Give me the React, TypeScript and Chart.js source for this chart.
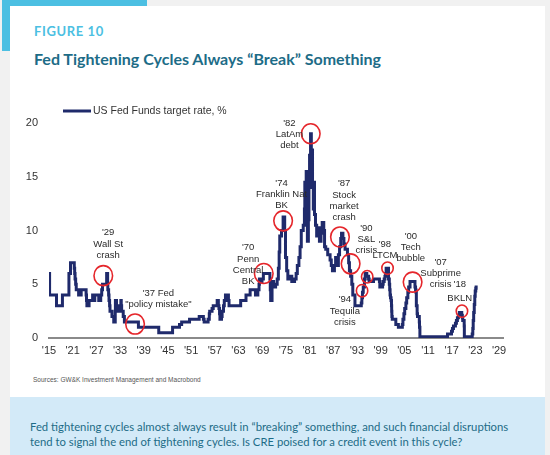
import React, { useEffect, useRef } from "react";
import { Chart, registerables } from "chart.js";

Chart.register(...registerables);

// ---- Data (decimal year of change, rate in % after the change) ----
const rateDates: number[] = [
  1915.0, 1915.15, 1916.9, 1918.4, 1920.05, 1920.45, 1921.4, 1921.5, 1921.6, 1921.75, 1921.9,
  1922.5, 1923.15, 1924.4, 1924.5, 1924.6, 1925.15, 1926.05, 1926.3, 1926.6, 1927.6, 1928.1,
  1928.35, 1928.55, 1929.6, 1929.85, 1929.9, 1930.1, 1930.2, 1930.35, 1930.45, 1930.95, 1931.4,
  1931.78, 1931.82, 1932.1, 1932.45, 1933.2, 1933.3, 1933.4, 1933.8, 1934.1, 1937.65, 1942.8,
  1946.3, 1948.05, 1948.6, 1950.6, 1953.05, 1954.1, 1954.3, 1955.3, 1955.6, 1955.7, 1956.3,
  1956.6, 1957.6, 1957.9, 1958.05, 1958.2, 1958.3, 1958.7, 1958.85, 1959.2, 1959.4, 1959.7,
  1960.45, 1960.6, 1963.55, 1964.9, 1965.95, 1967.3, 1967.9, 1968.2, 1968.3, 1968.6, 1968.95,
  1969.3, 1970.95, 1971.05, 1971.15, 1971.5, 1971.9, 1972.4, 1972.8, 1973.1, 1973.3, 1973.45,
  1973.9, 1974.3, 1974.7, 1974.9, 1975.2, 1975.5, 1976.2, 1976.5, 1977.2, 1977.6, 1977.9,
  1978.3, 1978.6, 1978.9, 1979.4, 1979.7, 1979.8, 1980.0, 1980.15, 1980.3, 1980.45, 1980.7,
  1980.85, 1981.0, 1981.1, 1981.25, 1981.45, 1981.6, 1981.75, 1981.95, 1982.05, 1982.25,
  1982.5, 1982.8, 1983.1, 1983.5, 1983.9, 1984.2, 1984.6, 1984.8, 1985.1, 1985.6, 1986.2,
  1986.5, 1986.8, 1987.3, 1987.6, 1987.9, 1988.3, 1988.6, 1988.9, 1989.1, 1989.45, 1989.7,
  1990.0, 1990.6, 1990.9, 1991.1, 1991.4, 1991.7, 1991.95, 1992.5, 1994.1, 1994.25, 1994.4,
  1994.6, 1994.9, 1995.1, 1995.5, 1995.95, 1996.1, 1997.2, 1998.7, 1998.8, 1999.5, 1999.65,
  1999.9, 2000.1, 2000.25, 2000.4, 2001.0, 2001.2, 2001.3, 2001.4, 2001.5, 2001.65, 2001.75,
  2001.8, 2001.85, 2001.95, 2002.85, 2003.5, 2004.5, 2004.65, 2004.9, 2005.1, 2005.4, 2005.6,
  2005.9, 2006.1, 2006.45, 2007.7, 2007.85, 2007.95, 2008.05, 2008.25, 2008.35, 2008.8,
  2008.85, 2008.95, 2015.95, 2016.95, 2017.2, 2017.45, 2017.95, 2018.2, 2018.45, 2018.7,
  2018.95, 2019.55, 2019.7, 2019.8, 2020.17, 2020.21, 2022.2, 2022.35, 2022.45, 2022.57,
  2022.72, 2022.85, 2022.96, 2023.1, 2023.2,
];
const rateValues: number[] = [
  6, 4, 3, 4, 6, 7, 6.5, 6, 5.5, 5, 4.5,
  4, 4.5, 4, 3.5, 3, 3.5, 4, 3.5, 4, 3.5, 4,
  4.5, 5, 6, 5, 4.5, 4, 3.5, 3, 2.5, 2, 1.5,
  2.5, 3.5, 3, 2.5, 3.5, 3, 2.5, 2, 1.5, 1, 0.5,
  1, 1.25, 1.5, 1.75, 2, 1.75, 1.5, 1.75, 2.25, 2.5, 2.75,
  3, 3.5, 3, 2.75, 2.25, 1.75, 2, 2.5, 3, 3.5, 4,
  3.5, 3, 3.5, 4, 4.5, 4, 4.5, 5, 5.5, 5.25, 5.5,
  6, 5.5, 4.5, 3.5, 5.25, 4.75, 5, 5.5, 6.5, 8, 9.5,
  10, 11.25, 10, 7.5, 6.25, 5.5, 5.75, 5.25, 5.5, 6, 6.75,
  7.5, 8.5, 10, 10.5, 12, 14.5, 13, 15.5, 12, 9, 11,
  14, 17, 15.5, 19, 16.5, 17.5, 14, 12, 14.5, 11.5,
  10.5, 9.5, 10.25, 9, 9.75, 10.75, 10, 8.5, 8.25, 7.75, 7.25,
  6.75, 6.25, 6.75, 7.5, 6.75, 7.75, 8.5, 9.25, 9.75, 9.25, 8.75,
  8.25, 7.75, 7, 6.25, 5.75, 5, 4, 3, 3.25, 3.75, 4.25,
  4.75, 5.5, 6, 5.75, 5.5, 5.25, 5.5, 5.25, 4.75, 5, 5.25,
  5.5, 5.75, 6, 6.5, 5.5, 5, 4.5, 4, 3.75, 3.5, 3,
  2.5, 2, 1.75, 1.25, 1, 1.25, 1.75, 2.25, 2.75, 3.25, 3.75,
  4.25, 4.75, 5.25, 4.75, 4.5, 4.25, 3, 2.25, 2, 1.5,
  1, 0.125, 0.375, 0.625, 0.875, 1.125, 1.375, 1.625, 1.875, 2.125,
  2.375, 2.125, 1.875, 1.625, 1.125, 0.125, 0.375, 0.875, 1.625, 2.375,
  3.125, 3.875, 4.375, 4.625, 4.875,
];

const xTickYears: number[] = [1915, 1921, 1927, 1933, 1939, 1945, 1951, 1957, 1963, 1969, 1975, 1981, 1987, 1993, 1999, 2005, 2011, 2017, 2023, 2029];
const yTickValues: number[] = [0, 5, 10, 15, 20];

const legendLabel = "US Fed Funds target rate, %";

// circled "break" events: [year, rate]
const bigCircles: number[][] = [
  [1928.75, 5.8], [1936.8, 1.3], [1969.4, 6.0], [1974.3, 10.9], [1981.3, 19.0],
  [1988.7, 9.4], [1991.4, 6.9], [2007.1, 5.2],
];
const smallCircles: number[][] = [
  [1994.3, 4.4], [1995.6, 5.7], [2000.75, 6.5], [2019.6, 2.5],
];

// annotation labels: anchor [year, rate] of the first line
const labelYears: number[] = [1930.0, 1942.7, 1965.45, 1973.9, 1975.9, 1989.75, 1995.4, 2000.1, 2006.65, 2014.2, 2019.05, 2019.05, 1989.95];
const labelRates: number[] = [9.78, 4.17, 8.39, 14.4, 19.96, 14.35, 10.19, 8.7, 9.47, 7.04, 5.03, 3.64, 3.55];
const labelTexts: string[][] = [
  ["'29", "Wall St", "crash"],
  ["'37 Fed", "\"policy mistake\""],
  ["'70", "Penn", "Central", "BK"],
  ["'74", "Franklin Nat", "BK"],
  ["'82", "LatAm", "debt"],
  ["'87", "Stock", "market", "crash"],
  ["'90", "S&L", "crisis"],
  ["'98", "LTCM"],
  ["'00", "Tech", "bubble"],
  ["'07", "Subprime", "crisis"],
  ["'18"],
  ["BKLN"],
  ["'94", "Tequila", "crisis"],
];

const NAVY = "#1f2a6b";
const ARIAL = '"Liberation Sans", Arial, sans-serif';

const overlayPlugin = {
  id: "overlay",
  afterDatasetsDraw(chart: any) {
    const { ctx, chartArea } = chart;
    const xs = chart.scales.x;
    const ys = chart.scales.y;
    ctx.save();
    // circles
    ctx.strokeStyle = "#e5262b";
    ctx.lineWidth = 1.6;
    const drawCircle = (c: number[], rx: number, ry: number) => {
      ctx.beginPath();
      ctx.ellipse(xs.getPixelForValue(c[0]), ys.getPixelForValue(c[1]), rx, ry, 0, 0, Math.PI * 2);
      ctx.stroke();
    };
    bigCircles.forEach((c) => drawCircle(c, 9.3, 10));
    smallCircles.forEach((c) => drawCircle(c, 5.7, 6.2));
    // labels
    ctx.fillStyle = "#2a2a2a";
    ctx.font = `9.5px ${ARIAL}`;
    ctx.textAlign = "center";
    ctx.textBaseline = "middle";
    labelTexts.forEach((lines, i) => {
      const px = xs.getPixelForValue(labelYears[i]);
      const py = ys.getPixelForValue(labelRates[i]);
      lines.forEach((ln, j) => ctx.fillText(ln, px, py + j * 11.2));
    });
    // legend
    const ly = chartArea.top - 12;
    ctx.strokeStyle = NAVY;
    ctx.lineWidth = 3;
    ctx.beginPath();
    ctx.moveTo(chartArea.left + 14, ly);
    ctx.lineTo(chartArea.left + 42, ly);
    ctx.stroke();
    ctx.fillStyle = "#333";
    ctx.font = `10.5px ${ARIAL}`;
    ctx.textAlign = "left";
    ctx.fillText(legendLabel, chartArea.left + 44, ly);
    ctx.restore();
  },
};

function FedChart() {
  const ref = useRef<HTMLCanvasElement | null>(null);
  useEffect(() => {
    if (!ref.current) return;
    const points = rateDates.map((d, i) => ({ x: d, y: rateValues[i] }));
    const chart = new Chart(ref.current, {
      type: "line",
      data: {
        datasets: [
          {
            label: legendLabel,
            data: points,
            borderColor: NAVY,
            borderWidth: 3,
            pointRadius: 0,
            stepped: true,
            fill: false,
          },
        ],
      },
      options: {
        animation: false,
        responsive: false,
        maintainAspectRatio: false,
        devicePixelRatio: 1,
        layout: { padding: { left: 0, right: 47, top: 123, bottom: 87 } },
        plugins: { legend: { display: false }, tooltip: { enabled: false } },
        scales: {
          x: {
            type: "linear",
            min: 1915,
            max: 2030,
            grid: { display: false, drawTicks: false },
            border: { display: true, color: "#8a8a8a", width: 2 },
            afterBuildTicks: (s: any) => {
              s.ticks = xTickYears.map((v) => ({ value: v }));
            },
            afterFit: (s: any) => {
              s.height = 30;
            },
            ticks: {
              padding: 6,
              color: "#333",
              font: { family: ARIAL, size: 11 },
              maxRotation: 0,
              autoSkip: false,
              callback: (v: any) => "'" + String(v).slice(2),
            },
          },
          y: {
            min: 0,
            max: 20,
            grid: { display: false, drawTicks: false },
            border: { display: false },
            afterBuildTicks: (s: any) => {
              s.ticks = yTickValues.map((v) => ({ value: v }));
            },
            afterFit: (s: any) => {
              s.width = 49;
            },
            ticks: {
              padding: 11,
              color: "#333",
              font: { family: ARIAL, size: 11 },
            },
          },
        },
      },
      plugins: [overlayPlugin],
    });
    return () => chart.destroy();
  }, []);
  return (
    <canvas
      ref={ref}
      width={550}
      height={455}
      style={{ position: "absolute", left: 0, top: 0, width: 550, height: 455 }}
    />
  );
}

export default function App() {
  const LATO = 'Lato, "Open Sans", sans-serif';
  return (
    <div
      style={{
        position: "absolute",
        left: 0,
        top: 0,
        width: 550,
        height: 455,
        background: "#f1f1f1",
        overflow: "hidden",
        fontFamily: LATO,
      }}
    >
      <div style={{ position: "absolute", left: 2, top: 0, width: 145, height: 6, background: "#4cbfe2" }} />
      <div style={{ position: "absolute", left: 2, top: 0, width: 8, height: 51, background: "#4cbfe2" }} />
      <div style={{ position: "absolute", left: 10, top: 6, width: 535, height: 449, background: "#ffffff" }} />
      <div
        style={{
          position: "absolute",
          left: 34,
          top: 22,
          fontSize: 13,
          fontWeight: 700,
          letterSpacing: 0.6,
          color: "#4cbfe2",
          whiteSpace: "nowrap",
          lineHeight: "18px",
        }}
      >
        FIGURE 10
      </div>
      <div
        style={{
          position: "absolute",
          left: 34,
          top: 48,
          fontSize: 16,
          fontWeight: 700,
          color: "#1d6c87",
          whiteSpace: "nowrap",
          lineHeight: "21px",
        }}
      >
        Fed Tightening Cycles Always “Break” Something
      </div>
      <div
        style={{
          position: "absolute",
          left: 33,
          top: 376,
          fontSize: 6.5,
          color: "#555",
          fontFamily: ARIAL,
          whiteSpace: "nowrap",
          lineHeight: "8px",
        }}
      >
        Sources: GW&amp;K Investment Management and Macrobond
      </div>
      <div
        style={{
          position: "absolute",
          left: 10,
          top: 397,
          width: 535,
          height: 58,
          background: "#d3eaf8",
        }}
      />
      <div
        style={{
          position: "absolute",
          left: 30,
          top: 419,
          fontSize: 11.3,
          color: "#1d6c87",
          whiteSpace: "nowrap",
          lineHeight: "15px",
        }}
      >
        Fed tightening cycles almost always result in “breaking” something, and such financial disruptions
        <br />
        tend to signal the end of tightening cycles. Is CRE poised for a credit event in this cycle?
      </div>
      <FedChart />
    </div>
  );
}
